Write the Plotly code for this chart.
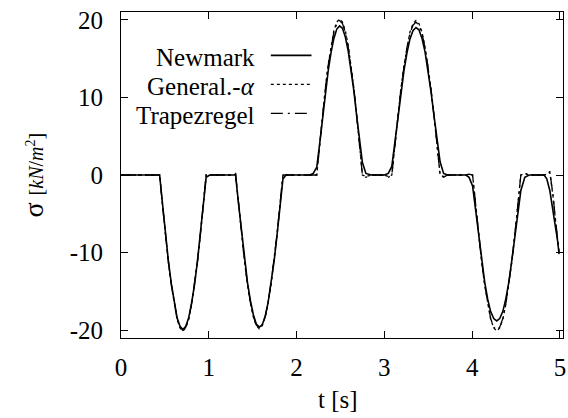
import plotly.graph_objects as go

# time grid [s]
t = [0.000, 0.400,
     0.440, 0.473, 0.506, 0.539, 0.573, 0.606, 0.639, 0.672, 0.705, 0.738, 0.771, 0.804, 0.838, 0.871, 0.904, 0.937, 0.970,
     1.010, 1.270,
     1.305, 1.339, 1.373, 1.406, 1.440, 1.474, 1.508, 1.541, 1.575, 1.609, 1.643, 1.676, 1.710, 1.744, 1.778, 1.811, 1.845,
     1.880, 2.150, 2.190,
     2.230, 2.263, 2.295, 2.328, 2.360, 2.393, 2.425, 2.458, 2.490, 2.523, 2.555, 2.588, 2.620, 2.653, 2.685, 2.718, 2.750,
     2.790, 2.850, 3.000, 3.045,
     3.085, 3.119, 3.154, 3.188, 3.223, 3.257, 3.291, 3.326, 3.360, 3.394, 3.429, 3.463, 3.498, 3.532, 3.566, 3.601, 3.635,
     3.675, 3.720, 3.930, 3.965,
     4.005, 4.039, 4.074, 4.108, 4.143, 4.177, 4.211, 4.246, 4.280, 4.314, 4.349, 4.383, 4.418, 4.452, 4.486, 4.521, 4.555,
     4.600, 4.650, 4.820, 4.850, 4.885, 4.920, 4.950, 4.975, 4.990]

sigma_newmark = [0, 0,
     0, -3.7, -7.5, -11.0, -14.0, -16.5, -18.4, -19.5, -19.9, -19.5, -18.4, -16.5, -14.1, -11.1, -7.7, -3.9, -0.3,
     0, 0,
     0, -3.7, -7.4, -10.8, -13.8, -16.2, -18.0, -19.2, -19.6, -19.3, -18.2, -16.4, -14.0, -11.1, -7.7, -4.0, -0.5,
     0, 0, 0.2,
     1.0, 4.0, 7.4, 10.6, 13.4, 15.8, 17.6, 18.8, 19.2, 18.9, 17.8, 16.0, 13.6, 10.8, 7.6, 4.4, 1.6,
     0.2, 0, 0, 0.2,
     1.1, 4.0, 7.4, 10.6, 13.4, 15.7, 17.5, 18.6, 19.0, 18.7, 17.6, 15.9, 13.5, 10.7, 7.6, 4.5, 1.7,
     0.2, 0, 0, -0.3,
     -1.4, -4.4, -7.8, -11.0, -13.8, -16.0, -17.6, -18.5, -18.8, -18.5, -17.6, -16.0, -13.8, -11.0, -7.9, -4.8, -2.0,
     -0.3, 0, 0, -0.5, -2.0, -4.5, -6.8, -8.6, -10.2]

sigma_general = [0, 0,
     0, -3.9, -7.7, -11.2, -14.2, -16.7, -18.6, -19.7, -20.1, -19.7, -18.6, -16.7, -14.2, -11.2, -7.7, -3.9, 0,
     0, 0,
     0.1, -3.8, -7.6, -11.0, -14.0, -16.5, -18.3, -19.4, -19.8, -19.4, -18.3, -16.5, -14.0, -11.0, -7.6, -3.8, 0,
     0, 0, 0,
     0, 3.9, 7.7, 11.2, 14.2, 16.7, 18.6, 19.7, 20.1, 19.7, 18.6, 16.7, 14.2, 11.2, 7.7, 3.9, 0,
     -0.2, 0, 0, -0.2,
     0, 3.9, 7.6, 11.1, 14.0, 16.5, 18.4, 19.5, 19.9, 19.5, 18.4, 16.5, 14.0, 11.1, 7.6, 3.9, 0,
     -0.2, 0, 0, 0.1,
     0, -3.9, -7.7, -11.2, -14.2, -16.7, -18.6, -19.7, -20.1, -19.7, -18.6, -16.7, -14.2, -11.2, -7.7, -3.9, 0,
     0.2, 0, 0, 0.1, 0.35, -2.6, -5.9, -8.3, -10.0]

sigma_trapez = [0, 0,
     0, -3.9, -7.7, -11.1, -14.1, -16.6, -18.5, -19.6, -20.0, -19.6, -18.5, -16.6, -14.1, -11.1, -7.7, -3.9, 0,
     0, 0,
     0.2, -3.8, -7.6, -11.0, -13.9, -16.4, -18.2, -19.3, -19.7, -19.3, -18.2, -16.4, -13.9, -11.0, -7.6, -3.8, 0,
     0, 0, 0,
     0, 3.9, 7.6, 11.1, 14.1, 16.5, 18.4, 19.5, 19.9, 19.5, 18.4, 16.5, 14.1, 11.1, 7.6, 3.9, 0,
     -0.3, 0, 0, -0.3,
     0, 3.8, 7.6, 11.0, 13.9, 16.4, 18.2, 19.3, 19.7, 19.3, 18.2, 16.4, 13.9, 11.0, 7.6, 3.8, 0,
     -0.3, 0, 0, 0.1,
     0, -3.9, -7.7, -11.1, -14.1, -16.6, -18.5, -19.6, -20.0, -19.6, -18.5, -16.6, -14.1, -11.1, -7.7, -3.9, 0,
     0.2, 0, 0, 0.1, 0.45, -2.5, -5.8, -8.2, -10.0]

series_names = ["Newmark", "General.-<i>α</i>", "Trapezregel"]
x_ticks = [0, 1, 2, 3, 4, 5]
x_tick_labels = ["0", "1", "2", "3", "4", "5"]
y_ticks = [-20, -10, 0, 10, 20]
y_tick_labels = ["-20", "-10", "0", "10", "20"]

FONT = "Liberation Serif"
fig = go.Figure()
styles = [dict(dash="solid", width=1.6),
          dict(dash="3px,3px", width=1.3),
          dict(dash="12px,5px,2px,5px", width=1.3)]
for name, ys, st in zip(series_names, [sigma_newmark, sigma_general, sigma_trapez], styles):
    fig.add_trace(go.Scatter(x=t, y=ys, mode="lines", name=name, showlegend=False,
                             line=dict(color="black", dash=st["dash"], width=st["width"])))

# legend (text right-aligned, key to the right, gnuplot style)
leg_y = [0.859, 0.770, 0.681]
for name, yy, st in zip(series_names, leg_y, styles):
    fig.add_annotation(x=0.308, y=yy, xref="paper", yref="paper", text=name, showarrow=False,
                       xanchor="right", yanchor="middle", font=dict(family=FONT, size=25, color="black"))
    fig.add_shape(type="line", xref="paper", yref="paper", x0=0.339, x1=0.431, y0=yy + 0.008, y1=yy + 0.008,
                  line=dict(color="black", dash=st["dash"], width=st["width"]))

axis_common = dict(showgrid=False, zeroline=False, showline=True, linecolor="black", linewidth=1,
                   mirror="ticks", ticks="inside", ticklen=7, tickcolor="black", tickwidth=1,
                   ticklabeloverflow="allow",
                   tickfont=dict(family=FONT, size=25, color="black"))
fig.update_xaxes(range=[0, 5.035], tickvals=x_ticks, ticktext=x_tick_labels, ticklabelstandoff=7, **axis_common)
fig.update_yaxes(range=[-21, 21], tickvals=y_ticks, ticktext=y_tick_labels, ticklabelstandoff=12, **axis_common)

fig.add_annotation(x=0.492, y=-0.19, xref="paper", yref="paper", text="t [s]", showarrow=False,
                   xanchor="center", yanchor="middle", font=dict(family=FONT, size=25, color="black"))
fig.add_annotation(x=-0.198, y=0.50, xref="paper", yref="paper",
                   text="σ <span style='font-size:20px'>[<i>kN</i>/<i>m</i><sup>2</sup>]</span>",
                   textangle=-90, showarrow=False, xanchor="center", yanchor="middle",
                   font=dict(family=FONT, size=28, color="black"))

fig.update_layout(width=568, height=418, margin=dict(l=121, r=2, t=12, b=80),
                  paper_bgcolor="white", plot_bgcolor="white", showlegend=False,
                  font=dict(family=FONT, color="black"))
fig.write_html("out.html")
